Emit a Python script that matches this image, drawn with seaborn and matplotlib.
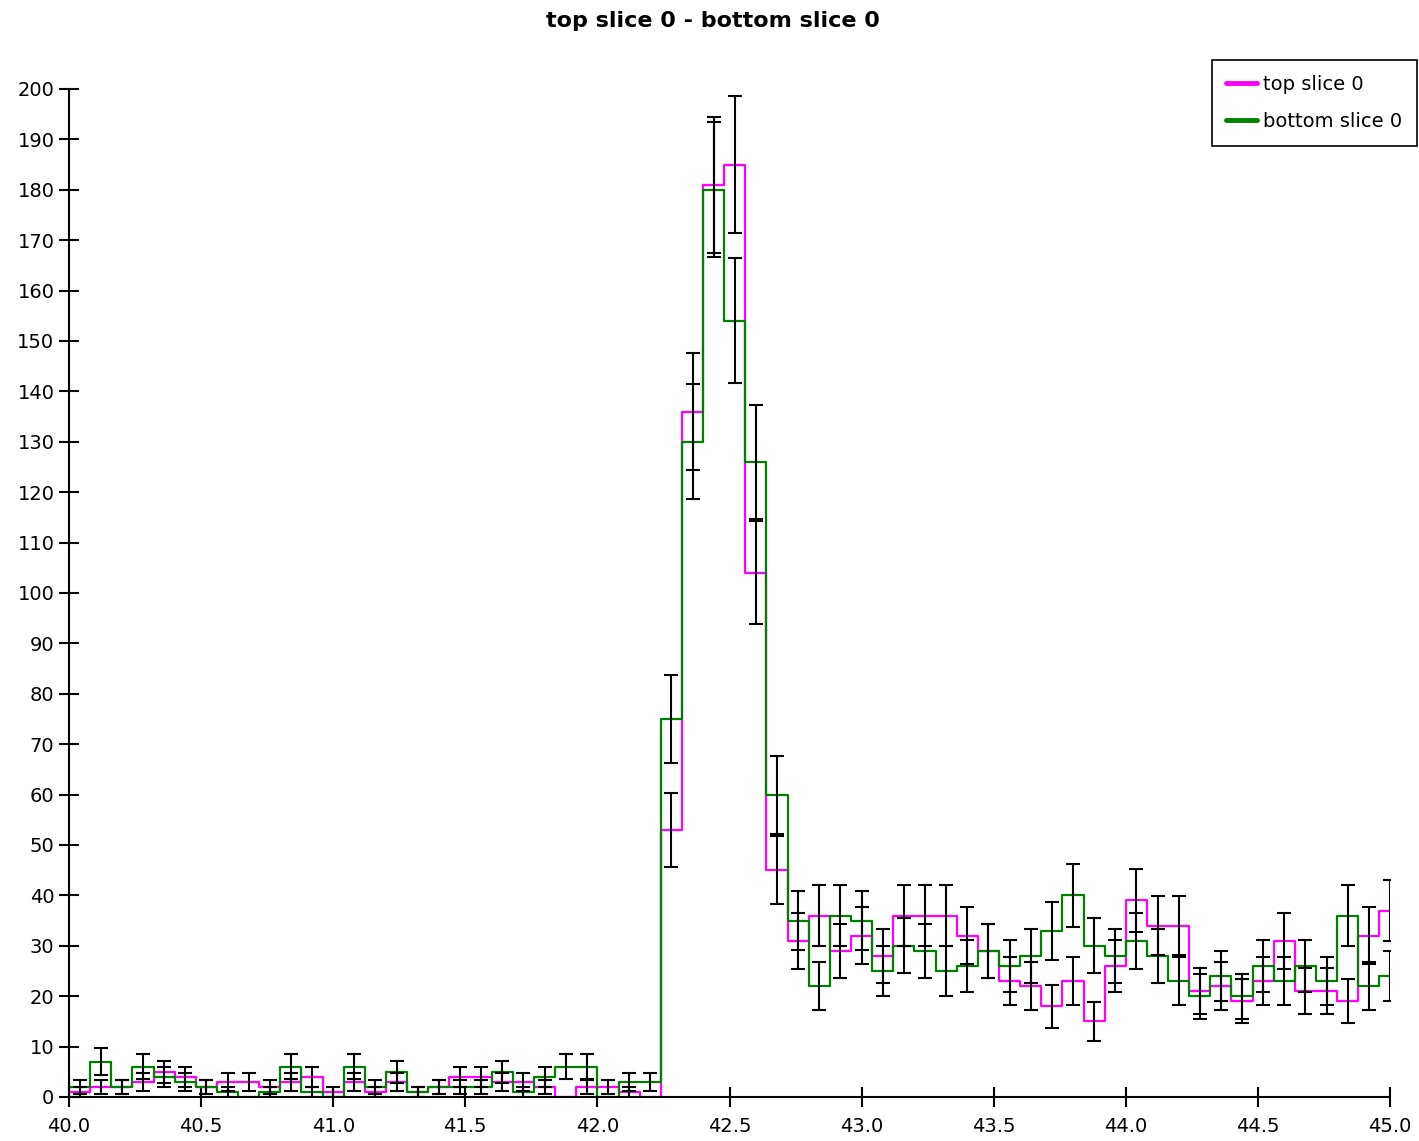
import numpy as np
import pandas as pd
import matplotlib
matplotlib.use("Agg")
import matplotlib.pyplot as plt
import seaborn as sns
from matplotlib.lines import Line2D

# ---- data (bin width 0.08, first bin lies just left of the visible range) ----
bin_edges = [round(v, 2) for v in np.linspace(39.92, 45.04, 65)]

top_counts = [4,
              1, 2, 2, 3, 5, 4, 2, 3, 3, 2, 3, 4, 1, 3, 1, 3, 1, 2, 4, 4, 3, 3, 2, 0, 2, 2, 1, 0,
              53, 136, 181, 185, 104, 45,
              31, 36, 29, 32, 28, 36, 36, 36, 32, 29, 23, 22, 18, 23, 15, 26, 39, 34, 34, 21,
              22, 19, 23, 31, 21, 21, 19, 32, 37]

bottom_counts = [2,
                 2, 7, 2, 6, 4, 3, 2, 1, 0, 1, 6, 1, 0, 6, 2, 5, 1, 2, 2, 2, 5, 1, 4, 6, 6, 0, 3, 3,
                 75, 130, 180, 154, 126, 60,
                 35, 22, 36, 35, 25, 30, 29, 25, 26, 29, 26, 28, 33, 40, 30, 28, 31, 28, 23, 20,
                 24, 20, 26, 23, 26, 23, 36, 22, 24]

series_labels = ["top slice 0", "bottom slice 0"]
series_colors = ["#ff00ff", "#008000"]
title_text = "top slice 0 - bottom slice 0"
x_ticks = [40.0, 40.5, 41.0, 41.5, 42.0, 42.5, 43.0, 43.5, 44.0, 44.5, 45.0]
y_ticks = list(range(0, 201, 10))

edges_arr = np.array(bin_edges)
centers = (edges_arr[:-1] + edges_arr[1:]) / 2
df = pd.DataFrame({"center": centers, "top": top_counts, "bottom": bottom_counts})

# ---- figure ----
sns.set_theme(style="white")
plt.rcParams["font.family"] = ["DejaVu Sans"]
plt.rcParams["text.color"] = "black"

W, H = 1419, 1141
fig = plt.figure(figsize=(W / 100, H / 100), dpi=100)
ax = fig.add_axes([69 / W, 1 - 1097 / H, (1390 - 69) / W, (1097 - 89) / H])

for col, color in zip(["top", "bottom"], series_colors):
    sns.histplot(data=df, x="center", weights=col, bins=bin_edges, element="step",
                 fill=False, color=color, linewidth=1.6, ax=ax, zorder=3)

for col in ["top", "bottom"]:
    v = df[col].to_numpy(dtype=float)
    m = v > 0
    ax.errorbar(centers[m], v[m], yerr=np.sqrt(v[m]), fmt="none", ecolor="black",
                elinewidth=1.5, capsize=5, capthick=1.5, zorder=4)

ax.set_xlim(40, 45)
ax.set_ylim(0, 200)
ax.set_xlabel("")
ax.set_ylabel("")
ax.set_xticks(x_ticks)
ax.set_xticklabels([f"{t:.1f}" for t in x_ticks])
ax.set_yticks(y_ticks)
ax.set_yticklabels([str(t) for t in y_ticks])
ax.tick_params(axis="both", which="major", direction="inout", length=15, width=1.5,
               color="black", labelsize=14, labelcolor="black", bottom=True, left=True)
ax.tick_params(axis="x", pad=7)
ax.tick_params(axis="y", pad=3)
for s in ["top", "right"]:
    ax.spines[s].set_visible(False)
for s in ["left", "bottom"]:
    ax.spines[s].set_color("black")
    ax.spines[s].set_linewidth(1.5)
    ax.spines[s].set_zorder(3.5)
ax.set_facecolor("white")

handles = [Line2D([0], [0], color=c, lw=3.5) for c in series_colors]
leg = fig.legend(handles=handles, labels=series_labels, loc="upper right",
                 bbox_to_anchor=(1417 / W, 1 - 60 / H), bbox_transform=fig.transFigure,
                 frameon=True, fancybox=False, edgecolor="black", framealpha=1,
                 fontsize=14, handlelength=1.6, handletextpad=0.3, borderpad=0.75,
                 labelspacing=0.95, borderaxespad=0)
leg.get_frame().set_linewidth(1.2)
for t in leg.get_texts():
    t.set_color("black")

fig.text(713 / W, 1 - 21 / H, title_text, ha="center", va="center",
         fontsize=16, fontweight="bold", color="black")

fig.savefig("out.png", dpi=100, facecolor="white")
